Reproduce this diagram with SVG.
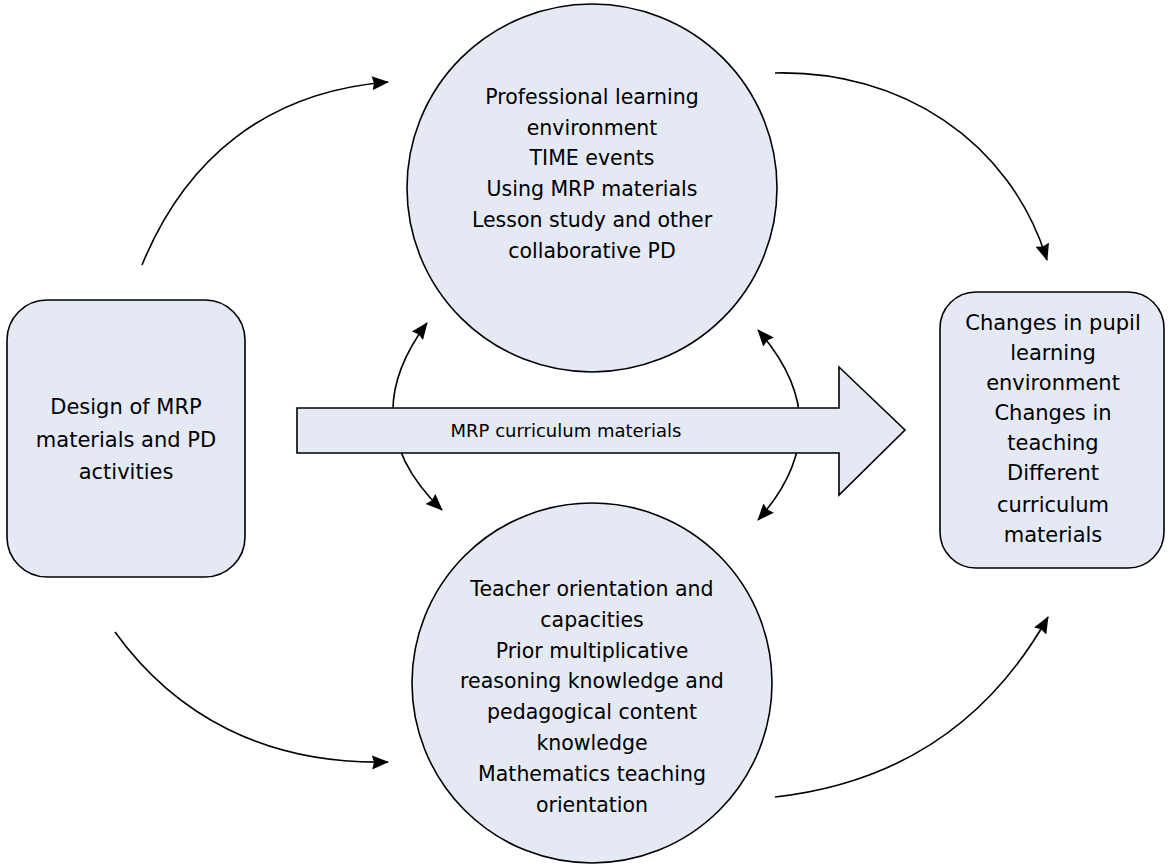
<svg xmlns="http://www.w3.org/2000/svg" width="1169" height="864" viewBox="0 0 1169 864">
<style>
.shape{fill:#E4E9F4;stroke:#000;stroke-width:1.6}
.conn{fill:none;stroke:#000;stroke-width:1.6}
text{font-family:"DejaVu Sans","Liberation Sans",sans-serif;font-size:20.5px;fill:#000;text-anchor:middle}
.box text{font-size:21px}
.lbl{font-size:18px}
</style>
<defs>
<marker id="ah" markerUnits="userSpaceOnUse" markerWidth="20" markerHeight="16" refX="16" refY="7" orient="auto-start-reverse" viewBox="0 0 20 14">
<path d="M0,0 L17,7 L0,14 L2,7 Z" fill="#000"/>
</marker>
</defs>
<rect width="1169" height="864" fill="#fff"/>
<g id="connectors">
<path class="conn" d="M142,265 C185,160 265,92 388,82" marker-end="url(#ah)"/>
<path class="conn" d="M775,73 C900,70 1010,140 1047,260" marker-end="url(#ah)"/>
<path class="conn" d="M115,632 C175,715 265,765 388,762" marker-end="url(#ah)"/>
<path class="conn" d="M775,797 C900,783 990,720 1048,617" marker-end="url(#ah)"/>
<path class="conn" d="M427,323 Q352,423 442,510" marker-start="url(#ah)" marker-end="url(#ah)"/>
<path class="conn" d="M758,330 Q842,426 758,520" marker-start="url(#ah)" marker-end="url(#ah)"/>
</g>
<g id="professional-learning">
<ellipse class="shape" cx="592" cy="188" rx="185" ry="184"/>
<text x="592" y="104">Professional learning</text>
<text x="592" y="135">environment</text>
<text x="592" y="165">TIME events</text>
<text x="592" y="196">Using MRP materials</text>
<text x="592" y="227">Lesson study and other</text>
<text x="592" y="258">collaborative PD</text>
</g>
<g id="teacher-orientation">
<ellipse class="shape" cx="592" cy="683" rx="180" ry="180"/>
<text x="592" y="596">Teacher orientation and</text>
<text x="592" y="627">capacities</text>
<text x="592" y="658">Prior multiplicative</text>
<text x="592" y="688">reasoning knowledge and</text>
<text x="592" y="719">pedagogical content</text>
<text x="592" y="750">knowledge</text>
<text x="592" y="781">Mathematics teaching</text>
<text x="592" y="812">orientation</text>
</g>
<g id="design" class="box">
<rect class="shape" x="7" y="300" width="238" height="277" rx="40" ry="40"/>
<text x="126" y="414">Design of MRP</text>
<text x="126" y="447">materials and PD</text>
<text x="126" y="479">activities</text>
</g>
<g id="changes" class="box">
<rect class="shape" x="940" y="292" width="224" height="276" rx="36" ry="36"/>
<text x="1053" y="330">Changes in pupil</text>
<text x="1053" y="360">learning</text>
<text x="1053" y="390">environment</text>
<text x="1053" y="420">Changes in</text>
<text x="1053" y="450">teaching</text>
<text x="1053" y="480">Different</text>
<text x="1053" y="512">curriculum</text>
<text x="1053" y="542">materials</text>
</g>
<g id="mrp-curriculum">
<path class="shape" d="M297,408 L839,408 L839,367 L905,430 L839,495 L839,453 L297,453 Z"/>
<text class="lbl" x="566" y="437">MRP curriculum materials</text>
</g>
</svg>
